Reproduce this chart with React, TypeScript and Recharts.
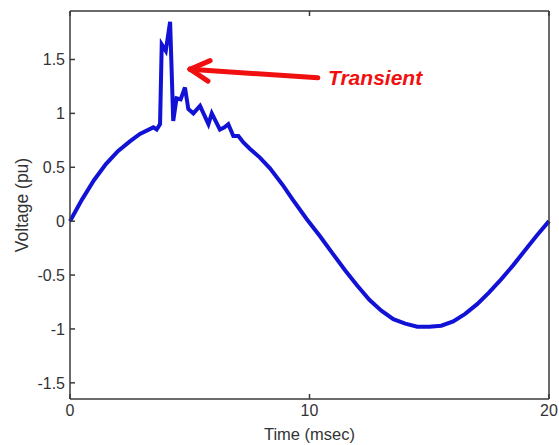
import { LineChart, Line, XAxis, YAxis, ReferenceLine } from 'recharts';

// time (msec) and voltage (pu)
const times = [
  0, 0.5, 1.0, 1.5, 2.0, 2.5, 2.92, 3.48, 3.62, 3.76, 3.83, 4.0, 4.18, 4.31, 4.45, 4.62, 4.8,
  4.94, 5.15, 5.43, 5.78, 5.92, 6.26, 6.45, 6.61, 6.82, 7.03, 7.24, 7.52, 7.93, 8.35, 8.9, 9.3,
  9.88, 10.44, 11.0, 11.5, 12.0, 12.5, 13.0, 13.5, 14.0, 14.5, 15.0, 15.5, 16.0, 16.5, 17.0,
  17.5, 18.0, 18.5, 19.0, 19.5, 20.0,
];
const voltages = [
  0, 0.2, 0.38, 0.53, 0.65, 0.74, 0.81, 0.87, 0.85, 0.9, 1.64, 1.58, 1.85, 0.93, 1.14, 1.13, 1.24,
  1.04, 1.0, 1.07, 0.9, 1.0, 0.85, 0.87, 0.9, 0.79, 0.79, 0.73, 0.67, 0.59, 0.49, 0.33, 0.2,
  0.02, -0.14, -0.31, -0.46, -0.6, -0.73, -0.83, -0.91, -0.95, -0.98, -0.98, -0.97, -0.93, -0.86,
  -0.77, -0.66, -0.54, -0.41, -0.27, -0.13, 0,
];

const xTicks = [0, 10, 20];
const yTicks = [-1.5, -1, -0.5, 0, 0.5, 1, 1.5];

const data = times.map((t, i) => ({ t, v: voltages[i] }));

const axisColor = '#3a3a3a';
const textColor = '#333';
const font = 'Liberation Sans, Arial, sans-serif';
const red = '#f01010';

const noLabel = () => <g />;

export default function App() {
  return (
    <div style={{ position: 'absolute', left: 0, top: 0, background: '#fff', fontFamily: font }}>
      <LineChart width={559} height={445} data={data} margin={{ top: 10, right: 9, left: 0, bottom: 0 }}>
        <XAxis
          dataKey="t"
          type="number"
          domain={[0, 20]}
          ticks={xTicks}
          height={46}
          tickSize={-5}
          tickMargin={11}
          stroke={axisColor}
          strokeWidth={1.5}
          tick={{ fill: textColor, fontSize: 16, fontFamily: font }}
          label={{ value: 'Time (msec)', position: 'insideBottom', offset: 5, fill: textColor, fontSize: 16.5, fontFamily: font }}
        />
        <XAxis
          xAxisId="top"
          dataKey="t"
          type="number"
          orientation="top"
          domain={[0, 20]}
          ticks={xTicks}
          height={1}
          tickSize={-5}
          stroke={axisColor}
          strokeWidth={1.5}
          tick={noLabel}
        />
        <YAxis
          type="number"
          domain={[-1.65, 1.95]}
          ticks={yTicks}
          allowDataOverflow
          width={70}
          tickSize={-5}
          tickMargin={10}
          stroke={axisColor}
          strokeWidth={1.5}
          tick={{ fill: textColor, fontSize: 16, fontFamily: font }}
          label={{ value: 'Voltage (pu)', angle: -90, position: 'insideLeft', offset: 22, fill: textColor, fontSize: 17.5, fontFamily: font, style: { textAnchor: 'middle' } }}
        />
        <YAxis
          yAxisId="right"
          orientation="right"
          type="number"
          domain={[-1.65, 1.95]}
          ticks={yTicks}
          width={1}
          tickSize={-5}
          stroke={axisColor}
          strokeWidth={1.5}
          tick={noLabel}
        />
        <Line
          dataKey="v"
          type="linear"
          stroke="#1212d6"
          strokeWidth={4}
          dot={false}
          isAnimationActive={false}
        />
        {/* annotation arrow */}
        <ReferenceLine segment={[{ x: 5.01, y: 1.41 }, { x: 10.35, y: 1.33 }]} stroke={red} strokeWidth={5} strokeLinecap="round" ifOverflow="visible" />
        <ReferenceLine segment={[{ x: 5.01, y: 1.41 }, { x: 5.85, y: 1.49 }]} stroke={red} strokeWidth={5} strokeLinecap="round" ifOverflow="visible" />
        <ReferenceLine segment={[{ x: 5.01, y: 1.41 }, { x: 5.76, y: 1.3 }]} stroke={red} strokeWidth={5} strokeLinecap="round" ifOverflow="visible" />
      </LineChart>
      <svg width={559} height={445} style={{ position: 'absolute', left: 0, top: 0, pointerEvents: 'none' }}>
        <text x={328} y={85} fill={red} fontSize={21} fontWeight="bold" fontStyle="italic" fontFamily={font}>
          Transient
        </text>
      </svg>
    </div>
  );
}
